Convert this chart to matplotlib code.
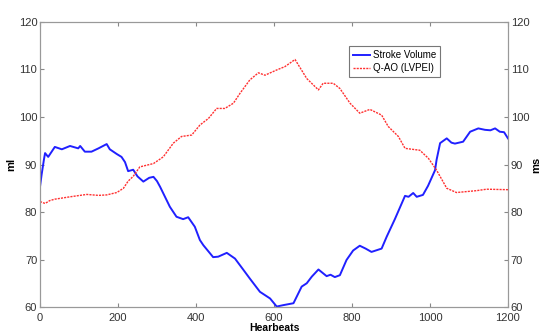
import matplotlib
matplotlib.use("Agg")
import matplotlib.pyplot as plt

# Stroke Volume (ml), left axis
sv_beats = [0, 4, 10, 13, 21, 38, 56, 77, 98, 103, 115, 132, 150, 171, 179, 197, 209, 218,
            226, 239, 250, 265, 280, 291, 300, 308, 333, 350, 367, 380, 397, 410, 419, 444,
            457, 479, 500, 520, 538, 564, 590, 607, 624, 650, 671, 684, 697, 714, 735, 745,
            756, 769, 786, 803, 820, 835, 850, 876, 889, 910, 936, 945, 957, 966, 982, 995,
            1013, 1017, 1026, 1043, 1055, 1064, 1085, 1103, 1124, 1141, 1155, 1167, 1179,
            1190, 1200]
sv_ml = [85.3, 87.8, 91.0, 92.4, 91.6, 93.7, 93.2, 93.9, 93.4, 93.9, 92.7, 92.7, 93.4, 94.3,
         93.2, 92.2, 91.6, 90.5, 88.6, 88.9, 87.5, 86.4, 87.2, 87.4, 86.5, 85.3, 81.1, 79.0,
         78.5, 78.9, 76.9, 74.1, 73.0, 70.5, 70.6, 71.4, 70.2, 68.0, 66.0, 63.2, 61.8, 60.1,
         60.4, 60.8, 64.3, 65.0, 66.4, 67.9, 66.5, 66.8, 66.3, 66.7, 69.9, 71.9, 72.9, 72.3,
         71.6, 72.3, 74.8, 78.5, 83.4, 83.2, 84.0, 83.2, 83.6, 85.5, 88.8, 91.0, 94.5, 95.5,
         94.6, 94.4, 94.8, 96.9, 97.6, 97.3, 97.2, 97.6, 96.9, 96.8, 95.5]

# Q-AO (LVPEI) (ms), right axis
qao_beats = [0, 13, 25, 38, 77, 120, 150, 171, 197, 214, 226, 239, 256, 291, 316, 342, 363,
             389, 410, 432, 453, 474, 496, 513, 538, 560, 577, 607, 628, 654, 684, 714, 726,
             752, 769, 795, 820, 846, 876, 893, 919, 936, 974, 996, 1017, 1043, 1068, 1120,
             1145, 1200]
qao_ms = [82.2, 81.8, 82.4, 82.7, 83.2, 83.7, 83.5, 83.6, 84.1, 85.0, 86.5, 87.5, 89.5, 90.2,
          91.6, 94.5, 95.9, 96.2, 98.3, 99.7, 101.8, 101.8, 102.9, 105.0, 107.8, 109.3, 108.8,
          109.9, 110.6, 112.1, 108.1, 105.7, 107.1, 107.1, 106.0, 102.9, 100.8, 101.6, 100.4,
          98.0, 95.9, 93.4, 93.0, 91.3, 88.8, 85.0, 84.1, 84.5, 84.8, 84.7]

ticks_x = [0, 200, 400, 600, 800, 1000, 1200]
ticks_y = [60, 70, 80, 90, 100, 110, 120]

plt.rcParams['font.family'] = ['Liberation Sans', 'DejaVu Sans']

fig = plt.figure(figsize=(5.42, 3.33), dpi=100)
ax = fig.add_axes([0.0738, 0.078, 0.8634, 0.856])
ax2 = ax.twinx()

l1, = ax.plot(sv_beats, sv_ml, color='#2020ff', lw=1.4, label='Stroke Volume')
l2, = ax2.plot(qao_beats, qao_ms, color='#ff3030', lw=1.0, ls=(0, (1.5, 0.8)),
               label='Q-AO (LVPEI)')

for a in (ax, ax2):
    a.set_xlim(0, 1200)
    a.set_ylim(60, 120)
    a.set_yticks(ticks_y)
    a.tick_params(direction='in', labelsize=8, labelcolor='#333333', color='#888888',
                  length=3, pad=2)
    for s in a.spines.values():
        s.set_color('#999999')
ax.set_xticks(ticks_x)
ax.tick_params(axis='x', top=True, pad=4)

ax.set_xlabel('Hearbeats', fontsize=7.5, fontweight='bold', labelpad=0)
ax.set_ylabel('ml', fontsize=8, fontweight='bold', labelpad=2)
ax2.set_ylabel('ms', fontsize=8, fontweight='bold', labelpad=1)

leg = ax2.legend([l1, l2], ['Stroke Volume', 'Q-AO (LVPEI)'], loc='upper left',
                 bbox_to_anchor=(0.66, 0.915), fontsize=7, fancybox=False,
                 handlelength=1.8, borderpad=0.4, labelspacing=0.3, handletextpad=0.3,
                 borderaxespad=0)
leg.get_frame().set_edgecolor('#555555')
leg.get_frame().set_linewidth(0.8)

fig.savefig('out.png', dpi=100)
